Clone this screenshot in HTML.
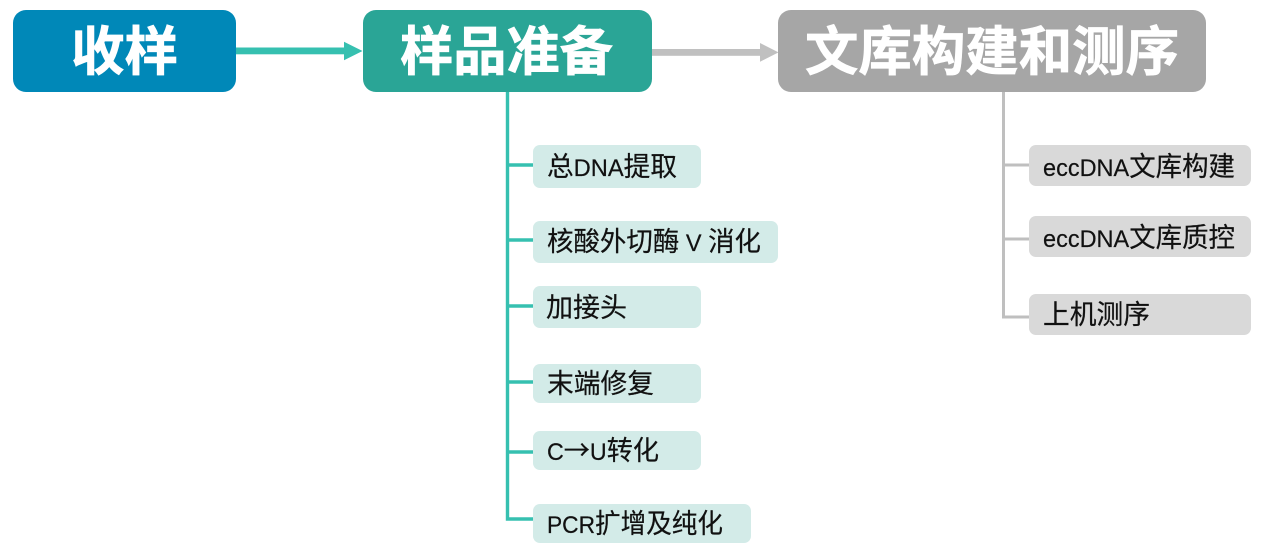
<!DOCTYPE html>
<html lang="zh">
<head>
<meta charset="utf-8">
<style>
html,body{margin:0;padding:0;background:#fff}
body{width:1267px;height:553px;overflow:hidden;position:relative}
svg{position:absolute;left:0;top:0}
text{font-family:"Liberation Sans","Noto Sans CJK SC",sans-serif}
.t{font-weight:700;font-size:53px;fill:#fff;stroke:#fff;stroke-width:.7}
.s{font-size:27px;fill:#111;stroke:#111;stroke-width:.2}
.l{font-size:24px}
.a{font-family:"Noto Sans CJK SC",sans-serif}
</style>
</head>
<body>
<svg width="1267" height="553" viewBox="0 0 1267 553" xmlns="http://www.w3.org/2000/svg">
  <!-- connectors -->
  <rect x="236" y="47.5" width="110" height="6.8" fill="#36c0b0"/>
  <polygon points="344,41.7 362.5,51 344,60.3" fill="#36c0b0"/>
  <rect x="652" y="49" width="110" height="6.8" fill="#c0c0c0"/>
  <polygon points="760,43 778.5,52.4 760,61.8" fill="#c0c0c0"/>

  <path d="M507.5 92V519H533M507.5 165H533M507.5 240H533M507.5 306H533M507.5 382H533M507.5 452H533" fill="none" stroke="#36c0b0" stroke-width="3.4"/>
  <path d="M1003.5 92V317H1029M1003.5 165H1029M1003.5 239H1029" fill="none" stroke="#bfbfbf" stroke-width="3"/>

  <!-- header boxes -->
  <rect x="13" y="10" width="223" height="82" rx="13" fill="#0088b8"/>
  <rect x="363" y="10" width="289" height="82" rx="13" fill="#2aa596"/>
  <rect x="778" y="10" width="428" height="82" rx="13" fill="#a6a6a6"/>
  <text class="t" x="71" y="70" textLength="107" lengthAdjust="spacingAndGlyphs">收样</text>
  <text class="t" x="400" y="70" textLength="213" lengthAdjust="spacingAndGlyphs">样品准备</text>
  <text class="t" x="805" y="70" textLength="374" lengthAdjust="spacingAndGlyphs">文库构建和测序</text>

  <!-- left sub-boxes -->
  <g fill="#d3ebe8">
    <rect x="533" y="145" width="168" height="43" rx="7"/>
    <rect x="533" y="221" width="245" height="42" rx="7"/>
    <rect x="533" y="286" width="168" height="42" rx="7"/>
    <rect x="533" y="364" width="168" height="39" rx="7"/>
    <rect x="533" y="431" width="168" height="39" rx="7"/>
    <rect x="533" y="504" width="218" height="39" rx="7"/>
  </g>
  <!-- right sub-boxes -->
  <g fill="#d9d9d9">
    <rect x="1029" y="145" width="222" height="41" rx="7"/>
    <rect x="1029" y="216" width="222" height="41" rx="7"/>
    <rect x="1029" y="294" width="222" height="41" rx="7"/>
  </g>

  <text class="s" x="547" y="176" textLength="130" lengthAdjust="spacingAndGlyphs">总<tspan class="l">DNA</tspan>提取</text>
  <text class="s" x="547" y="251" textLength="214" lengthAdjust="spacingAndGlyphs">核酸外切酶<tspan class="l"> V </tspan>消化</text>
  <text class="s" x="546" y="317" textLength="81" lengthAdjust="spacingAndGlyphs">加接头</text>
  <text class="s" x="547" y="393" textLength="107" lengthAdjust="spacingAndGlyphs">末端修复</text>
  <text class="s" x="547" y="460" textLength="112" lengthAdjust="spacingAndGlyphs"><tspan class="l">C</tspan><tspan class="a">→</tspan><tspan class="l">U</tspan>转化</text>
  <text class="s" x="547" y="533" textLength="176" lengthAdjust="spacingAndGlyphs"><tspan class="l">PCR</tspan>扩增及纯化</text>

  <text class="s" x="1043" y="176" textLength="192" lengthAdjust="spacingAndGlyphs"><tspan class="l">eccDNA</tspan>文库构建</text>
  <text class="s" x="1043" y="247" textLength="192" lengthAdjust="spacingAndGlyphs"><tspan class="l">eccDNA</tspan>文库质控</text>
  <text class="s" x="1043" y="324" textLength="107" lengthAdjust="spacingAndGlyphs">上机测序</text>
</svg>
</body>
</html>
